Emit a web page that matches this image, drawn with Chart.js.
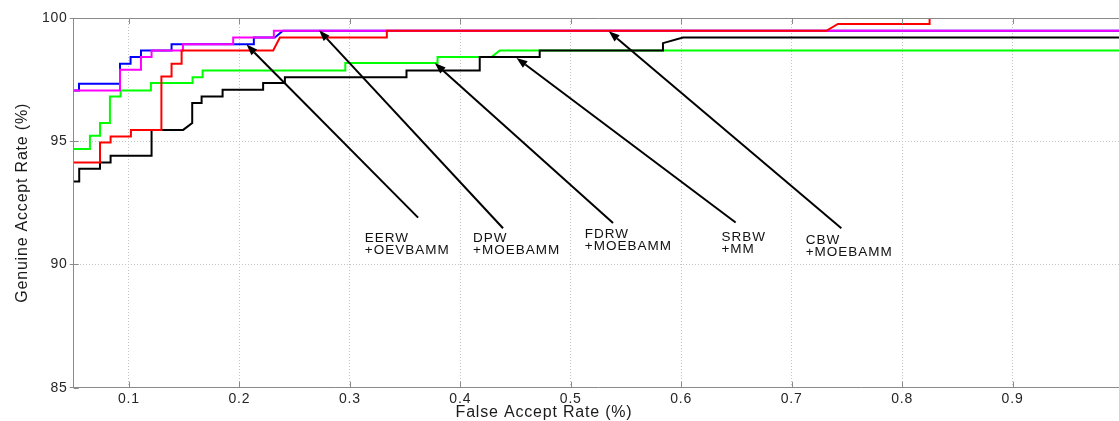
<!DOCTYPE html>
<html>
<head>
<meta charset="utf-8">
<script src="https://cdn.jsdelivr.net/npm/chart.js@4.4.1/dist/chart.umd.min.js"></script>
<style>
  html, body { margin: 0; padding: 0; background: #fff; overflow: hidden; }
  #wrap { width: 1126px; height: 421px; }
</style>
</head>
<body>
<div id="wrap"><canvas id="roc" width="1126" height="421"></canvas></div>
<script>
// ROC staircases: vertices (FAR %, GAR %)
const cbwFar = [0.05, 0.0738, 0.0738, 0.0834, 0.0834, 0.1018, 0.1018, 0.1294, 0.1294, 0.1386, 0.1386, 0.1477, 0.1477, 0.2306, 0.2367, 0.3335, 0.3335, 0.7314, 0.7419, 0.8249, 0.8249, 1.0];
const cbwGar = [94.14, 94.14, 94.95, 94.95, 95.19, 95.19, 95.46, 95.46, 97.63, 97.63, 98.14, 98.14, 98.68, 98.68, 99.21, 99.21, 99.48, 99.48, 99.76, 99.76, 100, 100];

const dpwFar = [0.05, 0.0919, 0.0919, 0.1109, 0.1109, 0.1205, 0.1205, 0.1489, 0.1489, 0.1944, 0.1944, 0.2312, 0.2312, 1.0];
const dpwGar = [97.06, 97.06, 97.90, 97.90, 98.42, 98.42, 98.68, 98.68, 98.94, 98.94, 99.21, 99.21, 99.48, 99.48];

const eerwFar = [0.05, 0.0548, 0.0548, 0.0919, 0.0919, 0.1015, 0.1015, 0.1109, 0.1109, 0.1386, 0.1386, 0.2131, 0.2131, 0.2321, 0.2394, 1.0];
const eerwGar = [97.06, 97.06, 97.33, 97.33, 98.14, 98.14, 98.42, 98.42, 98.68, 98.68, 98.94, 98.94, 99.21, 99.21, 99.48, 99.48];

const srbwFar = [0.05, 0.0550, 0.0550, 0.0738, 0.0738, 0.0834, 0.0834, 0.1205, 0.1205, 0.1491, 0.1573, 0.1573, 0.1658, 0.1658, 0.1848, 0.1848, 0.2215, 0.2215, 0.2412, 0.2412, 0.3513, 0.3513, 0.4176, 0.4176, 0.4719, 0.4719, 0.5835, 0.5835, 0.6016, 1.0];
const srbwGar = [93.37, 93.37, 93.88, 93.88, 94.14, 94.14, 94.41, 94.41, 95.46, 95.46, 95.74, 96.55, 96.55, 96.82, 96.82, 97.09, 97.09, 97.36, 97.36, 97.60, 97.60, 97.87, 97.87, 98.42, 98.42, 98.68, 98.68, 98.98, 99.21, 99.21];

const fdrwFar = [0.05, 0.0647, 0.0647, 0.0738, 0.0738, 0.0828, 0.0828, 0.0925, 0.0925, 0.1199, 0.1199, 0.1576, 0.1576, 0.1667, 0.1667, 0.2959, 0.2959, 0.3794, 0.3794, 0.4282, 0.4357, 1.0];
const fdrwGar = [94.68, 94.68, 95.22, 95.22, 95.74, 95.74, 96.82, 96.82, 97.06, 97.06, 97.36, 97.36, 97.60, 97.60, 97.87, 97.87, 98.17, 98.17, 98.42, 98.42, 98.68, 98.68];

// arrow labels
const methodNames = ['EERW', 'DPW', 'FDRW', 'SRBW', 'CBW'];
const fusionNames = ['+OEVBAMM', '+MOEBAMM', '+MOEBAMM', '+MM', '+MOEBAMM'];

const xTicks = [0.1, 0.2, 0.3, 0.4, 0.5, 0.6, 0.7, 0.8, 0.9];
const yTicks = [85, 90, 95, 100];

const toPoints = (xs, ys) => xs.map((v, i) => ({ x: v, y: ys[i] }));

// where each arrow sits, in axis units (tail near text, tip on the curve)
const arrows = [
  { textX: 0.3136, textY: 90.93, tailX: 0.3618, tailY: 91.90, tipX: 0.2065, tipY: 98.92 },
  { textX: 0.4116, textY: 90.90, tailX: 0.4387, tailY: 91.47, tipX: 0.2722, tipY: 99.50 },
  { textX: 0.5127, textY: 91.07, tailX: 0.5383, tailY: 91.68, tipX: 0.3769, tipY: 98.17 },
  { textX: 0.6364, textY: 90.96, tailX: 0.6493, tailY: 91.70, tipX: 0.4509, tipY: 98.38 },
  { textX: 0.7127, textY: 90.82, tailX: 0.7450, tailY: 91.47, tipX: 0.5344, tipY: 99.46 }
];

const FONT = '"Liberation Sans", Arial, Helvetica, sans-serif';
Chart.defaults.font.family = FONT;
Chart.defaults.color = '#262626';

const axisGray = '#8a8a8a';

const decor = {
  id: 'decor',
  beforeDraw(chart) {
    // the original figure's text is a little wider than plain Arial
    chart.ctx.letterSpacing = '0.8px';
  },
  afterDatasetsDraw(chart) {
    const { ctx, chartArea: a, scales: { x, y } } = chart;
    ctx.save();
    // top frame and inner tick marks
    ctx.strokeStyle = axisGray;
    ctx.lineWidth = 1;
    ctx.beginPath();
    ctx.moveTo(a.left, a.top + 0.5);
    ctx.lineTo(a.right, a.top + 0.5);
    x.ticks.forEach(t => {
      const px = Math.round(x.getPixelForValue(t.value)) + 0.5;
      ctx.moveTo(px, a.bottom); ctx.lineTo(px, a.bottom - 6);
      ctx.moveTo(px, a.top); ctx.lineTo(px, a.top + 6);
    });
    y.ticks.forEach(t => {
      const py = Math.round(y.getPixelForValue(t.value)) + 0.5;
      ctx.moveTo(a.left, py); ctx.lineTo(a.left + 5, py);
    });
    ctx.stroke();

    // arrows and their labels
    arrows.forEach((an, i) => {
      const x0 = x.getPixelForValue(an.tailX), y0 = y.getPixelForValue(an.tailY);
      const x1 = x.getPixelForValue(an.tipX), y1 = y.getPixelForValue(an.tipY);
      const ang = Math.atan2(y1 - y0, x1 - x0);
      const head = 11, half = 4;
      const bx = x1 - head * Math.cos(ang), by = y1 - head * Math.sin(ang);
      ctx.strokeStyle = '#000';
      ctx.lineWidth = 2;
      ctx.beginPath();
      ctx.moveTo(x0, y0);
      ctx.lineTo(bx, by);
      ctx.stroke();
      ctx.fillStyle = '#000';
      ctx.beginPath();
      ctx.moveTo(x1, y1);
      ctx.lineTo(bx + half * Math.sin(ang), by - half * Math.cos(ang));
      ctx.lineTo(bx - half * Math.sin(ang), by + half * Math.cos(ang));
      ctx.closePath();
      ctx.fill();

      ctx.font = '13.5px ' + FONT;
      ctx.letterSpacing = '1px';
      ctx.fillStyle = '#111';
      ctx.textAlign = 'left';
      ctx.textBaseline = 'alphabetic';
      const tx = x.getPixelForValue(an.textX), ty = y.getPixelForValue(an.textY);
      ctx.fillText(methodNames[i], tx, ty);
      ctx.fillText(fusionNames[i], tx, ty + 12);
    });
    ctx.restore();
  },
  afterDraw(chart) {
    // x axis title sits left of the (cropped) axis centre in the original
    const { ctx } = chart;
    ctx.save();
    ctx.font = '16px ' + FONT;
    ctx.letterSpacing = '0.8px';
    ctx.fillStyle = '#1a1a1a';
    ctx.textAlign = 'center';
    ctx.textBaseline = 'alphabetic';
    ctx.fillText('False Accept Rate (%)', 544, 416.5);
    ctx.restore();
  }
};

const line = (label, far, gar, color) => ({
  label,
  data: toPoints(far, gar),
  borderColor: color,
  backgroundColor: color,
  borderWidth: 2,
  pointRadius: 0,
  tension: 0,
  fill: false
});

new Chart(document.getElementById('roc'), {
  type: 'line',
  data: {
    datasets: [
      line('CBW +MOEBAMM', cbwFar, cbwGar, '#ff0000'),
      line('DPW +MOEBAMM', dpwFar, dpwGar, '#ff00ff'),
      line('EERW +OEVBAMM', eerwFar, eerwGar, '#0000ff'),
      line('SRBW +MM', srbwFar, srbwGar, '#000000'),
      line('FDRW +MOEBAMM', fdrwFar, fdrwGar, '#00ff00')
    ]
  },
  options: {
    responsive: false,
    animation: false,
    layout: { padding: { left: 0, right: 2, top: 18, bottom: 0 } },
    plugins: { legend: { display: false }, tooltip: { enabled: false } },
    scales: {
      x: {
        type: 'linear',
        min: 0.05,
        max: 1.0,
        afterBuildTicks: s => { s.ticks = xTicks.concat([1.0]).map(v => ({ value: v })); },
        afterFit: s => { s.height = 33.3; },
        ticks: {
          padding: 3,
          font: { size: 14 },
          callback: v => (v >= 0.999 ? '' : v.toFixed(1))
        },
        grid: { color: '#c4c4c4', lineWidth: 1, drawTicks: false },
        border: { color: axisGray, width: 1, dash: [1, 2] }
      },
      y: {
        min: 85,
        max: 100,
        afterBuildTicks: s => { s.ticks = yTicks.map(v => ({ value: v })); },
        afterFit: s => { s.width = 73.7; },
        ticks: { padding: 2, font: { size: 14 } },
        grid: { color: '#c4c4c4', lineWidth: 1, drawTicks: true, tickLength: 4, tickColor: axisGray, tickBorderDash: [] },
        border: { color: axisGray, width: 1, dash: [1, 2] },
        title: {
          display: true,
          text: 'Genuine Accept Rate (%)',
          font: { size: 16 },
          color: '#1a1a1a',
          padding: { top: 13, bottom: 0 }
        }
      }
    }
  },
  plugins: [decor]
});
</script>
</body>
</html>
